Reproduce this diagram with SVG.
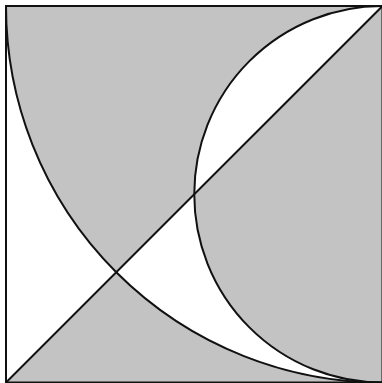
<svg xmlns="http://www.w3.org/2000/svg" width="382" height="383" viewBox="0 0 382 383">
<style>
.line{fill:none;stroke:#111;stroke-width:2}
</style>
<rect x="0" y="0" width="382" height="383" fill="#fff"/>
<path id="shade" fill="#c3c3c3" fill-rule="evenodd" d="M6,6 H382.5 V382.5 H6 Z M6,6 L382.5,6 L6,382.5 Z M382.5,6 L6,6 A376.5,376.5 0 0 0 382.5,382.5 Z M382.5,6 A188.25,188.25 0 0 0 382.5,382.5 Z"/>
<g id="lines">
<path class="line" d="M6,382.5 L382.5,6"/>
<path class="line" d="M6,6 A376.5,376.5 0 0 0 382.5,382.5"/>
<path class="line" d="M382.5,6 A188.25,188.25 0 0 0 382.5,382.5"/>
<rect class="line" x="6" y="6" width="376.5" height="376.5" stroke="#333"/>
</g>
</svg>
